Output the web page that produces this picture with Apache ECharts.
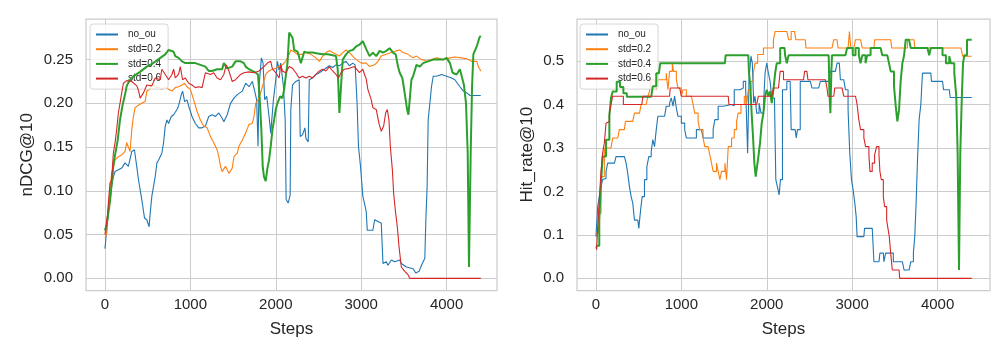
<!DOCTYPE html>
<html>
<head>
<meta charset="utf-8">
<script src="https://cdn.jsdelivr.net/npm/echarts@6/dist/echarts.min.js"></script>
<style>html,body{margin:0;padding:0;background:#fff}#c{width:1008px;height:360px}</style>
</head>
<body>
<div id="c"></div>
<script>
// ---------- data ----------
var seriesNames = ['no_ou', 'std=0.2', 'std=0.4', 'std=0.6'];
var xTicks = [0, 1000, 2000, 3000, 4000];
var ndcgTicks = [0, 0.05, 0.10, 0.15, 0.20, 0.25];
var hitTicks = [0, 0.1, 0.2, 0.3, 0.4, 0.5];

var ndcgNoOu = [[0,0.034],[10,0.036],[20,0.055],[39,0.075],[59,0.09],[78,0.105],[98,0.116],[118,0.122],[157,0.124],[196,0.126],[235,0.132],[274,0.128],[314,0.145],[345,0.147],[372,0.128],[392,0.113],[431,0.09],[463,0.069],[490,0.067],[517,0.059],[529,0.074],[549,0.094],[588,0.116],[608,0.132],[627,0.135],[666,0.143],[686,0.155],[706,0.174],[725,0.181],[745,0.177],[776,0.185],[804,0.187],[843,0.193],[862,0.197],[894,0.21],[909,0.214],[933,0.202],[960,0.204],[980,0.197],[1019,0.185],[1058,0.177],[1098,0.172],[1137,0.172],[1176,0.174],[1215,0.185],[1254,0.187],[1294,0.185],[1333,0.189],[1372,0.183],[1392,0.179],[1431,0.187],[1470,0.2],[1510,0.206],[1549,0.21],[1608,0.214],[1647,0.223],[1686,0.219],[1725,0.225],[1753,0.214],[1776,0.204],[1792,0.151],[1804,0.219],[1831,0.252],[1851,0.246],[1870,0.204],[1894,0.208],[1921,0.185],[1941,0.166],[1972,0.204],[2000,0.227],[2019,0.248],[2039,0.238],[2058,0.246],[2090,0.219],[2110,0.181],[2121,0.09],[2145,0.086],[2168,0.095],[2176,0.193],[2196,0.221],[2235,0.225],[2274,0.227],[2286,0.162],[2313,0.164],[2341,0.172],[2353,0.16],[2380,0.156],[2392,0.227],[2431,0.229],[2470,0.233],[2510,0.235],[2568,0.239],[2627,0.243],[2666,0.241],[2705,0.244],[2745,0.243],[2784,0.246],[2823,0.248],[2862,0.243],[2901,0.246],[2929,0.244],[2952,0.2],[2968,0.151],[2992,0.128],[3019,0.094],[3047,0.082],[3059,0.076],[3071,0.055],[3137,0.055],[3157,0.067],[3196,0.065],[3235,0.063],[3255,0.017],[3294,0.019],[3314,0.015],[3353,0.021],[3392,0.019],[3451,0.021],[3470,0.017],[3529,0.013],[3608,0.011],[3639,0.006],[3678,0.008],[3706,0.015],[3745,0.023],[3757,0.067],[3772,0.105],[3784,0.181],[3804,0.2],[3823,0.219],[3843,0.231],[3882,0.231],[3941,0.233],[4000,0.231],[4058,0.229],[4097,0.227],[4156,0.219],[4196,0.214],[4235,0.212],[4274,0.209],[4400,0.209]];

var ndcgStd02 = [[0,0.046],[20,0.05],[39,0.082],[59,0.101],[78,0.12],[118,0.135],[157,0.139],[196,0.141],[235,0.145],[255,0.155],[274,0.157],[294,0.145],[314,0.17],[333,0.185],[353,0.195],[392,0.198],[431,0.2],[470,0.202],[490,0.214],[529,0.216],[549,0.223],[588,0.219],[627,0.218],[666,0.216],[706,0.218],[745,0.216],[784,0.214],[823,0.218],[862,0.219],[902,0.221],[933,0.223],[960,0.219],[1000,0.216],[1039,0.204],[1078,0.191],[1117,0.181],[1156,0.174],[1196,0.172],[1235,0.162],[1274,0.155],[1313,0.147],[1333,0.139],[1353,0.128],[1372,0.122],[1411,0.128],[1451,0.12],[1470,0.12],[1490,0.126],[1510,0.139],[1549,0.143],[1569,0.151],[1608,0.158],[1647,0.166],[1686,0.176],[1725,0.177],[1745,0.185],[1765,0.2],[1804,0.206],[1843,0.219],[1882,0.233],[1921,0.237],[1961,0.239],[2000,0.24],[2039,0.242],[2078,0.244],[2117,0.248],[2157,0.256],[2176,0.261],[2215,0.259],[2255,0.256],[2313,0.256],[2353,0.258],[2411,0.256],[2470,0.252],[2510,0.248],[2549,0.254],[2588,0.258],[2627,0.26],[2666,0.258],[2705,0.256],[2745,0.254],[2784,0.258],[2823,0.261],[2862,0.258],[2901,0.254],[2941,0.25],[3000,0.246],[3059,0.246],[3098,0.242],[3157,0.244],[3196,0.248],[3235,0.254],[3294,0.256],[3353,0.258],[3412,0.26],[3451,0.261],[3490,0.258],[3549,0.256],[3608,0.252],[3647,0.254],[3706,0.25],[3765,0.248],[3823,0.25],[3882,0.252],[3960,0.25],[4039,0.252],[4098,0.253],[4176,0.252],[4235,0.251],[4294,0.248],[4353,0.248],[4372,0.242],[4400,0.237]];

var ndcgStd04 = [[0,0.055],[20,0.061],[59,0.088],[98,0.128],[118,0.141],[149,0.158],[176,0.181],[204,0.197],[235,0.21],[255,0.22],[294,0.227],[350,0.232],[410,0.236],[490,0.242],[550,0.245],[620,0.25],[706,0.256],[745,0.261],[764,0.261],[804,0.259],[823,0.254],[862,0.252],[902,0.248],[941,0.246],[980,0.246],[1058,0.246],[1117,0.244],[1176,0.242],[1215,0.237],[1254,0.237],[1313,0.239],[1372,0.239],[1392,0.246],[1431,0.24],[1490,0.242],[1529,0.248],[1588,0.248],[1627,0.246],[1647,0.242],[1686,0.239],[1725,0.237],[1765,0.235],[1792,0.233],[1815,0.2],[1831,0.17],[1847,0.128],[1862,0.116],[1882,0.111],[1902,0.126],[1921,0.135],[1941,0.151],[1961,0.17],[1980,0.181],[2000,0.193],[2019,0.2],[2051,0.208],[2078,0.206],[2098,0.216],[2117,0.231],[2137,0.246],[2157,0.281],[2176,0.282],[2196,0.275],[2215,0.261],[2255,0.259],[2294,0.246],[2333,0.259],[2372,0.258],[2431,0.258],[2490,0.257],[2549,0.256],[2608,0.256],[2666,0.255],[2705,0.254],[2725,0.239],[2745,0.189],[2764,0.22],[2784,0.25],[2823,0.256],[2862,0.26],[2901,0.261],[2941,0.265],[2980,0.267],[3019,0.271],[3039,0.271],[3059,0.262],[3078,0.262],[3098,0.254],[3137,0.258],[3176,0.254],[3216,0.26],[3255,0.258],[3294,0.26],[3333,0.263],[3372,0.258],[3404,0.256],[3431,0.242],[3451,0.235],[3482,0.229],[3498,0.219],[3521,0.204],[3537,0.193],[3553,0.187],[3568,0.204],[3588,0.227],[3608,0.231],[3647,0.244],[3686,0.242],[3725,0.246],[3784,0.248],[3843,0.25],[3902,0.25],[3960,0.25],[4000,0.252],[4039,0.246],[4070,0.235],[4117,0.233],[4156,0.239],[4176,0.24],[4203,0.221],[4227,0.2],[4247,0.143],[4262,0.013],[4282,0.143],[4298,0.219],[4313,0.256],[4353,0.265],[4384,0.275],[4400,0.277]];

var ndcgStd06 = [[0,0.05],[12,0.048],[31,0.074],[47,0.094],[59,0.109],[78,0.112],[98,0.143],[118,0.155],[137,0.17],[157,0.189],[176,0.2],[196,0.212],[216,0.223],[255,0.226],[314,0.225],[373,0.22],[392,0.215],[412,0.206],[451,0.212],[490,0.221],[549,0.22],[588,0.229],[647,0.227],[666,0.239],[706,0.233],[745,0.227],[784,0.233],[804,0.239],[823,0.229],[862,0.233],[882,0.242],[909,0.227],[941,0.229],[980,0.223],[1019,0.221],[1058,0.218],[1098,0.219],[1137,0.218],[1176,0.235],[1235,0.233],[1274,0.235],[1313,0.229],[1353,0.227],[1392,0.233],[1419,0.244],[1451,0.237],[1490,0.225],[1529,0.227],[1549,0.229],[1588,0.233],[1627,0.235],[1686,0.236],[1745,0.235],[1804,0.237],[1862,0.242],[1902,0.246],[1941,0.248],[1961,0.239],[2000,0.235],[2039,0.229],[2058,0.244],[2078,0.237],[2117,0.235],[2157,0.242],[2196,0.24],[2235,0.235],[2274,0.229],[2313,0.231],[2353,0.229],[2392,0.231],[2431,0.229],[2470,0.233],[2510,0.237],[2549,0.239],[2588,0.237],[2627,0.242],[2666,0.237],[2705,0.233],[2733,0.229],[2764,0.235],[2804,0.239],[2862,0.24],[2921,0.242],[2980,0.235],[3019,0.239],[3039,0.233],[3059,0.228],[3078,0.216],[3098,0.21],[3118,0.204],[3137,0.195],[3176,0.193],[3208,0.177],[3235,0.168],[3263,0.174],[3286,0.189],[3306,0.193],[3325,0.181],[3341,0.151],[3365,0.124],[3380,0.097],[3404,0.074],[3423,0.059],[3443,0.036],[3470,0.013],[3510,0.008],[3549,0.004],[3568,0],[4400,0]];

var hitNoOu = [[0,0.096],[20,0.165],[39,0.188],[59,0.211],[78,0.227],[98,0.23],[118,0.246],[137,0.265],[216,0.265],[235,0.28],[333,0.28],[353,0.265],[372,0.242],[392,0.211],[412,0.188],[431,0.173],[451,0.134],[490,0.13],[502,0.115],[521,0.154],[541,0.188],[568,0.227],[596,0.257],[619,0.28],[647,0.292],[666,0.319],[686,0.303],[706,0.342],[725,0.373],[804,0.376],[823,0.396],[862,0.403],[882,0.415],[902,0.396],[921,0.419],[941,0.392],[960,0.373],[1000,0.357],[1039,0.342],[1058,0.323],[1137,0.323],[1176,0.342],[1235,0.342],[1254,0.323],[1333,0.323],[1372,0.342],[1392,0.365],[1431,0.396],[1490,0.4],[1588,0.397],[1619,0.434],[1686,0.438],[1725,0.453],[1753,0.434],[1776,0.288],[1792,0.457],[1815,0.511],[1831,0.495],[1847,0.403],[1862,0.419],[1882,0.38],[1910,0.403],[1933,0.38],[1961,0.397],[1980,0.472],[2000,0.495],[2019,0.472],[2039,0.453],[2058,0.415],[2090,0.411],[2106,0.227],[2129,0.207],[2145,0.192],[2160,0.227],[2184,0.434],[2235,0.453],[2274,0.457],[2286,0.342],[2333,0.342],[2345,0.323],[2360,0.342],[2380,0.342],[2392,0.453],[2510,0.453],[2529,0.438],[2608,0.438],[2627,0.453],[2725,0.453],[2745,0.476],[2804,0.476],[2823,0.495],[2850,0.495],[2862,0.457],[2901,0.453],[2921,0.434],[2952,0.388],[2972,0.288],[2992,0.227],[3011,0.204],[3031,0.173],[3047,0.142],[3058,0.096],[3137,0.096],[3145,0.115],[3235,0.115],[3255,0.038],[3314,0.038],[3325,0.058],[3365,0.058],[3372,0.038],[3392,0.058],[3451,0.058],[3482,0.038],[3588,0.038],[3608,0.019],[3666,0.019],[3686,0.038],[3717,0.058],[3733,0.096],[3749,0.173],[3765,0.273],[3784,0.365],[3804,0.4],[3823,0.472],[3921,0.472],[3929,0.453],[4058,0.453],[4070,0.434],[4137,0.434],[4148,0.416],[4400,0.416]];

var hitStd02 = [[0,0.104],[31,0.15],[59,0.234],[98,0.3],[176,0.3],[196,0.323],[255,0.323],[274,0.342],[333,0.342],[345,0.361],[431,0.361],[451,0.38],[510,0.38],[529,0.4],[588,0.4],[608,0.419],[627,0.43],[647,0.457],[686,0.457],[706,0.434],[725,0.457],[784,0.457],[823,0.472],[843,0.434],[862,0.476],[894,0.495],[909,0.476],[941,0.457],[960,0.438],[1000,0.419],[1019,0.434],[1058,0.419],[1117,0.419],[1137,0.4],[1156,0.38],[1196,0.361],[1215,0.342],[1254,0.323],[1274,0.303],[1313,0.303],[1333,0.284],[1353,0.265],[1372,0.246],[1411,0.265],[1431,0.246],[1451,0.227],[1470,0.246],[1510,0.265],[1529,0.227],[1549,0.303],[1588,0.323],[1619,0.342],[1647,0.361],[1666,0.38],[1698,0.4],[1737,0.419],[1765,0.4],[1784,0.434],[1815,0.453],[1843,0.472],[1862,0.495],[1894,0.515],[1961,0.53],[2051,0.53],[2078,0.549],[2098,0.568],[2235,0.568],[2255,0.549],[2286,0.568],[2325,0.568],[2341,0.549],[2451,0.549],[2459,0.53],[2764,0.53],[2784,0.549],[2823,0.549],[2835,0.53],[2952,0.53],[2968,0.568],[2984,0.53],[3019,0.53],[3039,0.549],[3098,0.549],[3118,0.53],[3255,0.53],[3263,0.549],[3451,0.549],[3463,0.53],[3608,0.53],[3647,0.549],[3725,0.549],[3733,0.53],[4274,0.53],[4294,0.511],[4400,0.511]];

var hitStd04 = [[0,0.075],[20,0.075],[39,0.134],[59,0.219],[78,0.28],[118,0.319],[157,0.373],[176,0.415],[196,0.43],[243,0.452],[282,0.44],[321,0.426],[361,0.418],[537,0.418],[647,0.419],[666,0.442],[706,0.472],[737,0.476],[753,0.495],[1510,0.495],[1518,0.513],[1784,0.513],[1792,0.472],[1808,0.442],[1823,0.38],[1839,0.326],[1855,0.265],[1870,0.234],[1886,0.257],[1902,0.28],[1921,0.311],[1941,0.357],[1961,0.38],[1980,0.419],[2000,0.434],[2019,0.419],[2039,0.43],[2058,0.403],[2078,0.434],[2098,0.472],[2117,0.495],[2137,0.495],[2157,0.53],[2208,0.53],[2215,0.513],[2235,0.495],[2255,0.513],[2725,0.513],[2733,0.434],[2745,0.38],[2757,0.48],[2764,0.513],[2921,0.513],[2941,0.53],[2980,0.53],[3007,0.513],[3039,0.53],[3078,0.513],[3098,0.495],[3118,0.513],[3157,0.495],[3176,0.513],[3216,0.53],[3333,0.53],[3353,0.513],[3412,0.513],[3431,0.495],[3451,0.476],[3490,0.442],[3510,0.396],[3529,0.361],[3549,0.388],[3568,0.453],[3588,0.495],[3608,0.513],[3627,0.549],[3666,0.549],[3686,0.53],[3882,0.53],[3902,0.513],[3921,0.53],[4000,0.53],[4058,0.513],[4098,0.495],[4137,0.511],[4156,0.495],[4196,0.472],[4219,0.419],[4235,0.288],[4251,0.019],[4266,0.288],[4282,0.403],[4298,0.495],[4313,0.513],[4345,0.549],[4400,0.549]];

var hitStd06 = [[0,0.073],[8,0.066],[20,0.119],[39,0.18],[59,0.246],[78,0.288],[98,0.311],[118,0.357],[137,0.361],[157,0.38],[176,0.4],[196,0.419],[282,0.419],[321,0.4],[537,0.4],[549,0.419],[862,0.419],[870,0.438],[980,0.438],[1000,0.419],[1549,0.419],[1557,0.4],[1882,0.4],[1902,0.419],[2058,0.419],[2078,0.438],[2137,0.438],[2157,0.476],[2176,0.476],[2196,0.457],[2431,0.457],[2443,0.476],[2470,0.476],[2482,0.457],[2686,0.457],[2705,0.438],[2717,0.419],[2784,0.419],[2796,0.438],[2882,0.438],[2901,0.419],[3039,0.419],[3058,0.4],[3078,0.365],[3098,0.342],[3137,0.323],[3157,0.303],[3196,0.284],[3208,0.246],[3235,0.265],[3263,0.284],[3286,0.303],[3314,0.284],[3325,0.246],[3341,0.227],[3365,0.188],[3380,0.165],[3404,0.134],[3419,0.115],[3435,0.096],[3451,0.058],[3470,0.019],[3549,0.019],[3557,0],[4400,0]];

// ---------- chart ----------
var colors = ['#1f77b4', '#ff7f0e', '#2ca02c', '#d62728'];
var widths = [1.1, 1.1, 2, 1.1];
var FONT = 'Liberation Sans, Arial, sans-serif';
var TXT = '#262626';
var GRIDC = '#cccccc';

function xAxisCfg(idx, max) {
  return {
    type: 'value', gridIndex: idx, min: -222, max: max,
    name: 'Steps', nameLocation: 'middle', nameGap: 30,
    nameTextStyle: {fontSize: 17, color: TXT, fontFamily: FONT},
    axisLine: {show: false},
    axisTick: {show: false, customValues: xTicks},
    axisLabel: {customValues: xTicks, fontSize: 15, color: TXT, fontFamily: FONT, margin: 7,
      formatter: function (v) { return String(Math.round(v)); }},
    splitLine: {show: true, lineStyle: {color: GRIDC, width: 1}}
  };
}
function yAxisCfg(idx, min, max, ticks, digits, name, gap) {
  return {
    type: 'value', gridIndex: idx, min: min, max: max,
    name: name, nameLocation: 'middle', nameGap: gap,
    nameTextStyle: {fontSize: 17, color: TXT, fontFamily: FONT},
    axisLine: {show: false},
    axisTick: {show: false, customValues: ticks},
    axisLabel: {customValues: ticks, fontSize: 15, color: TXT, fontFamily: FONT, margin: 13,
      formatter: function (v) { return Number(v).toFixed(digits); }},
    splitLine: {show: true, lineStyle: {color: GRIDC, width: 1}}
  };
}
function legendCfg(left) {
  return {
    orient: 'vertical', left: left, top: 24,
    data: seriesNames, selectedMode: false,
    itemWidth: 22, itemHeight: 11, itemGap: 3.7,
    padding: [5, 7, 5, 5],
    itemStyle: {opacity: 0},
    lineStyle: {opacity: 1},
    backgroundColor: 'rgba(255,255,255,0.8)', borderColor: '#d6d6d6', borderWidth: 1, borderRadius: 3,
    formatter: '{a|{name}}',
    textStyle: {fontSize: 10, color: TXT, fontFamily: FONT, lineHeight: 11,
      rich: {a: {fontSize: 10, color: TXT, fontFamily: FONT, padding: [0, 0, 0, 5], lineHeight: 11}}}
  };
}
var leftData = [ndcgNoOu, ndcgStd02, ndcgStd04, ndcgStd06];
var rightData = [hitNoOu, hitStd02, hitStd04, hitStd06];
var series = [];
[leftData, rightData].forEach(function (set, gi) {
  set.forEach(function (d, i) {
    series.push({
      type: 'line', name: seriesNames[i], xAxisIndex: gi, yAxisIndex: gi,
      data: d, symbol: 'none', showSymbol: false, step: gi === 1 ? 'end' : false,
      color: colors[i], lineStyle: {color: colors[i], width: widths[i]},
      emphasis: {disabled: true}, silent: true, z: 2 + i
    });
  });
});

var chart = echarts.init(document.getElementById('c'), null, {renderer: 'canvas'});
chart.setOption({
  animation: false,
  backgroundColor: '#ffffff',
  textStyle: {fontFamily: FONT},
  grid: [
    {left: 86, top: 19, width: 411, height: 271.5, show: true, borderColor: GRIDC, borderWidth: 1.25, backgroundColor: '#fff'},
    {left: 577, top: 19, width: 413, height: 271.5, show: true, borderColor: GRIDC, borderWidth: 1.25, backgroundColor: '#fff'}
  ],
  xAxis: [xAxisCfg(0, 4590), xAxisCfg(1, 4614)],
  yAxis: [
    yAxisCfg(0, -0.0139, 0.2964, ndcgTicks, 2, 'nDCG@10', 50),
    yAxisCfg(1, -0.028, 0.5966, hitTicks, 1, 'Hit_rate@10', 41)
  ],
  legend: [legendCfg(90), legendCfg(580)],
  series: series
});
</script>
</body>
</html>
